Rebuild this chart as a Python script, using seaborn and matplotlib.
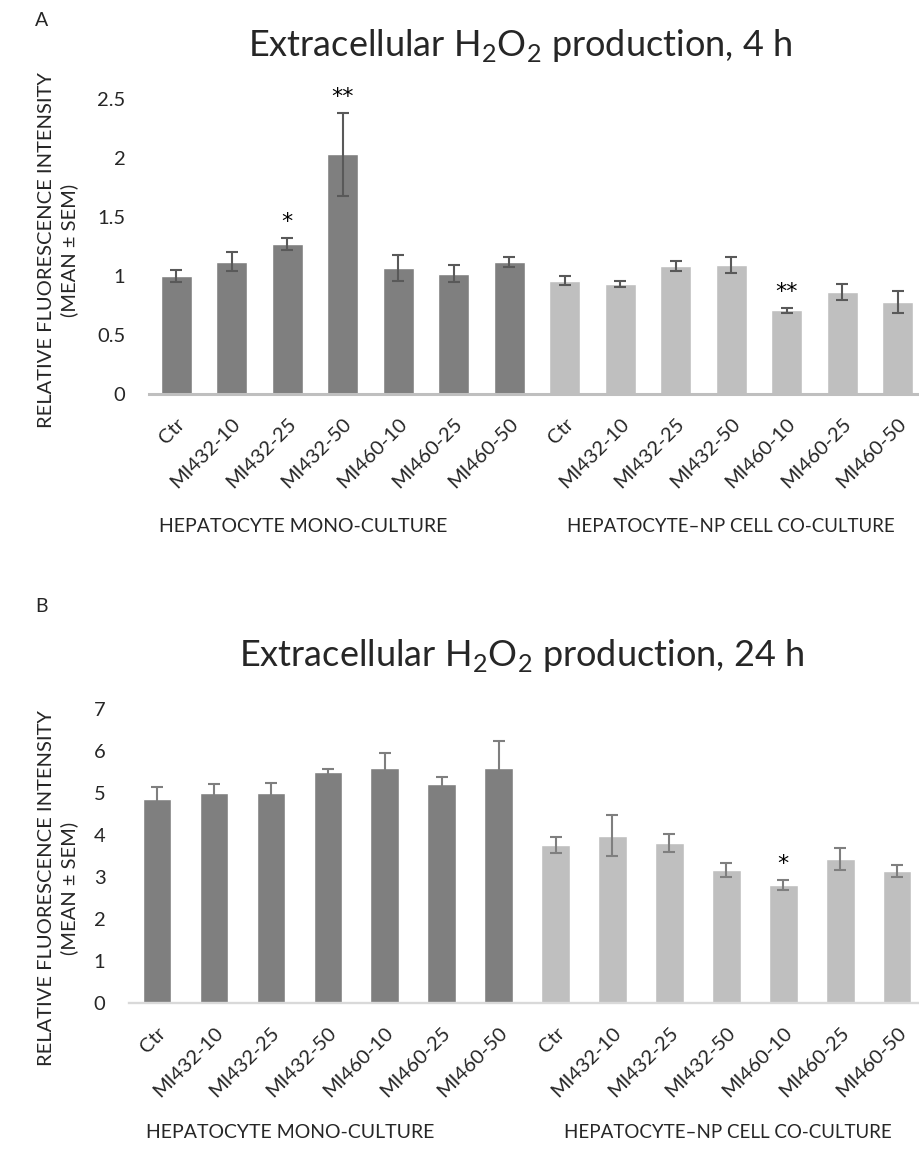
import numpy as np
import pandas as pd
import matplotlib
matplotlib.use("Agg")
import matplotlib.pyplot as plt
import seaborn as sns

sns.set_style("white")
plt.rcParams["font.family"] = ["Lato", "DejaVu Sans"]
plt.rcParams["mathtext.fontset"] = "custom"
plt.rcParams["mathtext.rm"] = "Lato"

conditions = ["Ctr", "MI432-10", "MI432-25", "MI432-50", "MI460-10", "MI460-25", "MI460-50"]
groups = ["HEPATOCYTE MONO-CULTURE", "HEPATOCYTE\u2013NP CELL CO-CULTURE"]

# 4 h
h4_mono = [1.00, 1.12, 1.27, 2.03, 1.07, 1.02, 1.12]
h4_mono_sem = [0.055, 0.08, 0.05, 0.35, 0.11, 0.07, 0.045]
h4_co = [0.96, 0.93, 1.085, 1.095, 0.71, 0.865, 0.78]
h4_co_sem = [0.04, 0.025, 0.045, 0.07, 0.02, 0.07, 0.09]
h4_mono_sig = ["", "", "*", "**", "", "", ""]
h4_co_sig = ["", "", "", "", "**", "", ""]

# 24 h
h24_mono = [4.86, 5.00, 5.00, 5.50, 5.60, 5.21, 5.60]
h24_mono_sem = [0.28, 0.21, 0.24, 0.07, 0.35, 0.17, 0.64]
h24_co = [3.76, 3.98, 3.81, 3.17, 2.81, 3.43, 3.14]
h24_co_sem = [0.20, 0.49, 0.21, 0.16, 0.11, 0.27, 0.14]
h24_mono_sig = ["", "", "", "", "", "", ""]
h24_co_sig = ["", "", "", "", "*", "", ""]

yticks_4h = ["0", "0.5", "1", "1.5", "2", "2.5"]
yticks_24h = ["0", "1", "2", "3", "4", "5", "6", "7"]

dark, light = "#7f7f7f", "#bfbfbf"
W, H = 920, 1149


def make_df(mono, mono_sem, co, co_sem):
    rows = []
    for g, vals, sems in [(groups[0], mono, mono_sem), (groups[1], co, co_sem)]:
        for c, v, s in zip(conditions, vals, sems):
            rows.append({"key": g + "|" + c, "cond": c, "group": g, "value": v, "sem": s})
    return pd.DataFrame(rows)


def panel(ax, df, sig, yticks, width, ecolor, spine_color, spine_lw):
    sns.barplot(data=df, x="key", y="value", hue="group", palette=[dark, light],
                order=list(df["key"]), errorbar=None, width=width, saturation=1,
                legend=False, ax=ax)
    x = np.arange(len(df))
    ax.errorbar(x, df["value"], yerr=df["sem"], fmt="none", ecolor=ecolor,
                elinewidth=1.5, capsize=4, capthick=1.5, zorder=3)
    for i, (v, s, t) in enumerate(zip(df["value"], df["sem"], sig)):
        if t:
            ax.annotate(t, xy=(i, v + s), xytext=(0, 4.5), textcoords="offset points",
                        ha="center", va="bottom", fontsize=16, color="black",
                        family="DejaVu Sans", annotation_clip=False)
    ax.set_xlim(-0.49, len(df) - 0.6)
    ax.set_ylim(0, float(yticks[-1]))
    ax.set_yticks([float(t) for t in yticks])
    ax.set_yticklabels(yticks, fontsize=14.5)
    ax.set_xticks(x)
    ax.set_xticklabels(list(df["cond"]), rotation=45, ha="right",
                       rotation_mode="anchor", fontsize=14.5)
    ax.tick_params(axis="x", length=0, pad=15)
    ax.tick_params(axis="y", length=0, pad=17)
    ax.set_xlabel("")
    ax.set_ylabel("")
    for side in ["left", "right", "top"]:
        ax.spines[side].set_visible(False)
    ax.spines["bottom"].set_color(spine_color)
    ax.spines["bottom"].set_linewidth(spine_lw)


fig = plt.figure(figsize=(W / 100, H / 100), dpi=100)

axA = fig.add_axes([149 / W, 1 - 394 / H, 771 / W, 295 / H])
panel(axA, make_df(h4_mono, h4_mono_sem, h4_co, h4_co_sem), h4_mono_sig + h4_co_sig,
      yticks_4h, 0.56, "#595959", "#bfbfbf", 2.2)

axB = fig.add_axes([129 / W, 1 - 1003 / H, 791 / W, 294 / H])
panel(axB, make_df(h24_mono, h24_mono_sem, h24_co, h24_co_sem), h24_mono_sig + h24_co_sig,
      yticks_24h, 0.5, "#7f7f7f", "#d9d9d9", 1.7)

ylab = "RELATIVE FLUORESCENCE INTENSITY\n(MEAN \u00b1 SEM)"
fig.text(58 / W, 1 - 250 / H, ylab, rotation=90, ha="center", va="center",
         multialignment="center", fontsize=14.5, linespacing=1.3)
fig.text(58 / W, 1 - 888 / H, ylab, rotation=90, ha="center", va="center",
         multialignment="center", fontsize=14.5, linespacing=1.3)

fig.text(520 / W, 1 - 45 / H, "Extracellular H$_2$O$_2$ production, 4 h",
         ha="center", va="center", fontsize=26)
fig.text(522 / W, 1 - 655 / H, "Extracellular H$_2$O$_2$ production, 24 h",
         ha="center", va="center", fontsize=26)

fig.text(42 / W, 1 - 20 / H, "A", ha="center", va="center", fontsize=14)
fig.text(42 / W, 1 - 607 / H, "B", ha="center", va="center", fontsize=14)

fig.text(303 / W, 1 - 527 / H, groups[0], ha="center", va="center", fontsize=14)
fig.text(731 / W, 1 - 527 / H, groups[1], ha="center", va="center", fontsize=13.5)
fig.text(290 / W, 1 - 1133 / H, groups[0], ha="center", va="center", fontsize=14)
fig.text(728 / W, 1 - 1133 / H, groups[1], ha="center", va="center", fontsize=13.5)

fig.savefig("out.png", dpi=100)
